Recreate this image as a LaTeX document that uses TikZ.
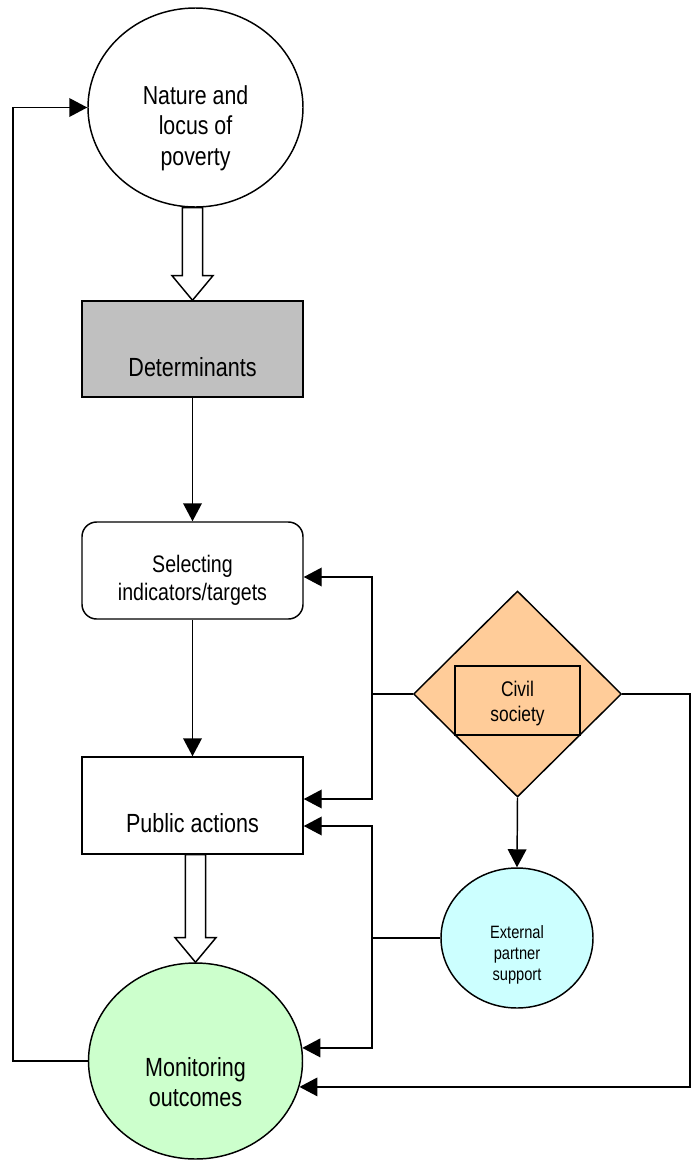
\documentclass[tikz,border=0pt]{standalone}
\usepackage{fontspec}
\setmainfont{Liberation Sans}[FakeStretch=0.82]
\usetikzlibrary{shapes.geometric,arrows.meta,calc}
\definecolor{boxgray}{HTML}{C0C0C0}
\definecolor{civorange}{HTML}{FFCC99}
\definecolor{mongreen}{HTML}{CCFFCC}
\definecolor{extcyan}{HTML}{CCFFFF}
\tikzset{
  shp/.style={draw=black, line width=1.1pt, inner sep=0pt},
  ell/.style={shp, ellipse},
  rectbox/.style={shp, rectangle, minimum width=165.75pt, minimum height=72.75pt},
  lbl/.style={align=center, inner sep=0pt},
  conn/.style={draw=black, line width=1.1pt},
  arr/.style={conn, -{Triangle[length=13.5pt,width=14pt]}},
  bigarrow/.style={draw=black, fill=white, line width=1.1pt, line join=miter,
    to path={let \p1=(\tikztostart), \p2=(\tikztotarget) in
      (\x2-7.6pt,\y1) -- (\x2-7.6pt,\y2+18.5pt) -- (\x2-15.4pt,\y2+18.5pt) -- (\x2,\y2)
      -- (\x2+15.4pt,\y2+18.5pt) -- (\x2+7.6pt,\y2+18.5pt) -- (\x2+7.6pt,\y1) -- cycle}},
}
\begin{document}
\begin{tikzpicture}[x=0.75pt,y=-0.75pt]
\useasboundingbox (0,0) rectangle (692,1160);
% shapes
\node[ell, fill=white, minimum width=161.25pt, minimum height=149.25pt] (nat) at (195.5,107.5) {};
\node[rectbox, fill=boxgray, minimum height=72pt] (det) at (192.5,349) {};
\node[rectbox, fill=white, rounded corners=11pt] (sel) at (192.5,570.5) {};
\node[rectbox, fill=white] (pub) at (192.5,805.5) {};
\node[ell, fill=mongreen, minimum width=160.5pt, minimum height=147pt] (mon) at (195.5,1061) {};
\node[shp, diamond, fill=civorange, minimum width=156pt, minimum height=154.5pt] (civ) at (517.5,694) {};
\node[shp, rectangle, minimum width=93.75pt, minimum height=51.75pt] (csb) at (517.5,700.5) {};
\node[ell, fill=extcyan, minimum width=114pt, minimum height=105pt] (ext) at (517,938) {};
% texts
\node[lbl, font=\fontsize{19.5pt}{23pt}\selectfont] (natt) at (195.5,128) {Nature and\\locus of\\poverty};
\node[lbl, anchor=base, font=\fontsize{19.7pt}{23pt}\selectfont] (dett) at (192.5,376) {Determinants};
\node[lbl, font=\fontsize{17.9pt}{21pt}\selectfont] (selt) at (192.5,580) {Selecting\\indicators/targets};
\node[lbl, anchor=base, font=\fontsize{19.7pt}{23pt}\selectfont] (pubt) at (192.5,832) {Public actions};
\node[lbl, font=\fontsize{19.7pt}{22.5pt}\selectfont] (mont) at (195.5,1082.5) {Monitoring\\outcomes};
\node[lbl, font=\fontsize{15.9pt}{18.75pt}\selectfont] (civt) at (517.5,703.5) {Civil\\society};
\node[lbl, font=\fontsize{13.4pt}{16pt}\selectfont] (extt) at (517,955) {External\\partner\\support};
% junction points
\coordinate (jD) at (372,694);
\coordinate (jC) at (372,938);
\coordinate (jR) at (690,694);
\coordinate (jL) at (13,1061);
% connectors
\draw[bigarrow] (nat.south) to (det.north);
\draw[bigarrow] (pub.south) to (mon.north);
\draw[arr] (det.south) -- (sel.north);
\draw[arr] (sel.south) -- (pub.north);
\draw[arr] (civ.south) -- (ext.north);
\draw[conn] (civ.west) -- (jD);
\draw[arr] (jD) |- ([yshift=-4.875pt]sel.east);
\draw[arr] (jD) |- ([yshift=4.875pt]pub.east);
\draw[conn] (ext.west) -- (jC);
\draw[arr] (jC) |- ([yshift=-15.375pt]pub.east);
\draw[arr] (jC) |- (mon.7.5);
\draw[arr] (civ.east) -- (jR) |- (mon.-14.7);
\draw[arr] (mon.west) -- (jL) |- (nat.west);
\end{tikzpicture}
\end{document}
